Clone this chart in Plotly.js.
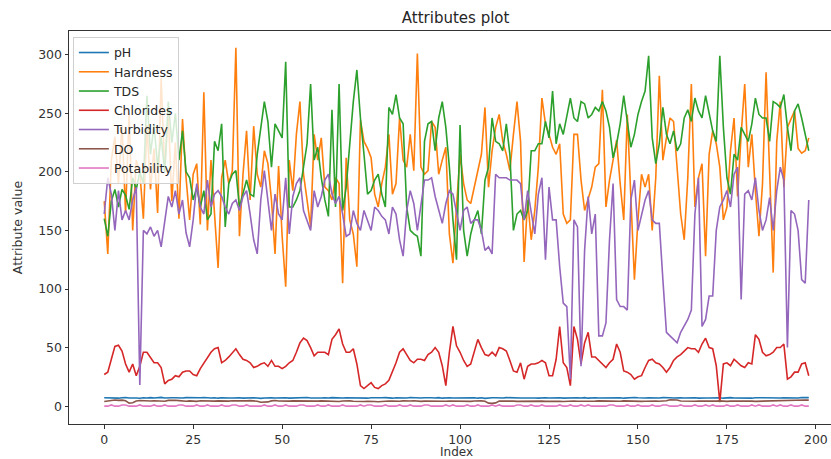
<!DOCTYPE html>
<html>
<head>
<meta charset="utf-8">
<script src="https://cdn.plot.ly/plotly-3.0.1.min.js"></script>
<style>
html,body{margin:0;padding:0;overflow:hidden;background:#fff;width:831px;height:459px;}
#chart{width:846px;height:459px;}
</style>
</head>
<body>
<div id="chart"></div>
<script>
const seriesNames = ["pH","Hardness","TDS","Chlorides","Turbidity","DO","Potability"];
const seriesColors = ["#1f77b4","#ff7f0e","#2ca02c","#d62728","#9467bd","#8c564b","#e377c2"];
const xTicks = [0,25,50,75,100,125,150,175,200];
const yTicks = [0,50,100,150,200,250,300];
const xLabel = "Index";
const yLabel = "Attribute value";
const chartTitle = "Attributes plot";

const pH = [
7.1,6.9,7.3,7.0,6.8,7.2,7.4,6.9,7.1,7.0,
6.7,7.2,7.0,7.3,6.9,7.1,7.5,7.0,6.8,7.2,
7.1,6.9,7.0,7.3,7.2,6.8,7.0,7.1,7.4,6.9,
7.0,7.2,6.8,7.1,7.3,7.0,6.9,7.2,7.1,6.8,
7.0,7.3,7.1,6.9,6.6,7.0,7.2,7.1,6.9,7.0,
7.3,7.1,6.8,7.0,7.2,6.9,7.1,7.4,7.0,6.8,
7.1,7.0,7.2,6.9,7.3,7.1,6.8,7.0,7.2,7.1,
6.9,7.0,7.3,7.1,6.8,7.2,7.0,6.9,7.1,7.3,
7.0,6.8,7.2,7.1,6.9,7.0,7.4,7.1,6.8,7.0,
7.2,6.9,7.1,7.0,7.3,6.8,7.1,7.2,6.9,7.0,
7.1,7.3,6.9,7.0,7.2,6.8,7.1,6.6,7.0,7.2,
7.1,6.9,7.0,7.3,7.1,6.8,7.2,7.0,6.9,7.1,
7.4,7.0,6.8,7.2,7.1,6.9,7.0,7.3,7.1,6.8,
7.0,7.2,6.9,7.1,7.0,7.3,6.8,7.1,7.2,6.9,
7.0,7.1,7.3,6.9,7.0,7.2,6.8,7.1,7.0,7.4,
7.1,6.9,7.0,7.2,7.1,6.8,7.0,7.3,6.9,7.1,
7.0,7.2,7.1,6.9,7.0,7.3,7.1,6.8,7.2,7.0,
6.9,7.1,7.0,7.2,6.8,7.1,7.3,7.0,6.9,7.2,
7.1,7.0,6.8,7.2,7.1,6.9,7.0,7.3,7.1,6.9,
7.0,7.2,7.1,6.8,7.3,7.0,7.4,7.2,7.3];

const hardness = [
175,130,210,230,190,240,165,250,150,210,
200,160,240,185,220,165,280,200,250,175,
225,160,245,195,159,198,207,155,268,150,
210,159,118,195,210,190,201,306,145,198,
235,176,239,198,187,218,207,176,130,205,
145,102,210,184,232,260,198,176,153,232,
210,229,187,184,176,195,190,105,212,159,
147,119,244,226,220,212,181,170,190,204,
232,181,190,246,210,204,232,201,301,204,
198,201,243,238,198,210,221,147,122,170,
215,190,176,173,187,198,215,255,187,218,
238,249,226,215,201,232,260,226,123,176,
142,167,204,263,241,232,221,215,224,164,
156,159,232,232,193,167,176,187,204,207,
270,170,193,210,227,190,159,249,176,108,
159,198,187,198,150,195,282,210,229,246,
243,204,164,142,195,275,170,195,207,128,
215,235,224,204,159,170,218,246,179,232,
275,204,232,184,145,190,285,200,114,226,
260,187,238,245,252,220,216,218,229];

const tds = [
160,145,175,185,170,185,180,168,195,185,
200,190,265,215,240,205,230,200,260,225,
250,210,235,200,195,176,187,170,184,159,
164,226,218,241,153,190,198,201,170,181,
193,181,179,215,238,260,243,204,241,235,
229,294,170,170,176,184,204,224,275,210,
221,195,176,162,253,170,275,167,187,224,
260,287,246,215,181,184,193,198,181,170,
255,249,266,246,241,170,150,147,145,128,
226,241,243,218,246,260,238,204,159,125,
240,150,128,147,159,167,147,193,204,246,
226,224,218,241,215,150,164,167,159,167,
218,218,224,224,243,229,269,224,241,232,
249,263,246,243,260,258,246,249,255,252,
260,252,238,212,224,241,265,241,221,232,
249,260,269,299,229,207,224,255,232,224,
235,218,224,246,253,243,263,252,246,265,
249,235,226,299,238,195,181,215,210,238,
232,226,241,263,249,246,246,226,260,258,
255,266,238,218,252,258,246,232,218];

const chlorides = [
27,29,40,51,52,47,36,29,36,26,
34,46,46,42,37,37,33,19,22,23,
26,25,29,30,30,27,26,32,37,42,
46,49,50,37,39,42,46,49,44,40,
39,37,33,34,36,37,34,39,34,34,
32,34,37,39,46,54,58,56,50,43,
46,46,46,44,57,61,66,53,46,46,
49,36,17.5,15,17.5,20,16,15,17.5,19,
22,29,37,46,49,44,39,37,40,40,
39,44,46,50,46,34.5,17.5,46,68,51.5,
46,39,34,36,46,57,50,44,43,46,
43,50,49,47,39,30,29,37,23,34,
36,36,37,39,37,26,26,40,68,37,
33,17.5,68,57,36,54,63,42,42,39,
36,33,37,40,53,46,30,29,27,23,
25,26,33,39,40,37,36,33,29,33,
39,42,44,47,50,49,49,46,53,58,
50,49,34.5,3.4,36,37,34.5,40,37,34.5,
33,37,36,61,57,46,43,44,46,50,
50,53,23,25,29,29,36,37,26];

const turbidity = [
164,195,181,150,184,159,167,159,176,187,
18,150,147,153,145,150,136,159,179,170,
184,164,176,148,136,159,190,170,164,193,
170,181,184,179,170,164,173,176,167,179,
184,164,142,130,176,201,176,150,181,164,
159,195,147,179,190,195,167,159,150,184,
170,179,193,198,181,173,179,164,145,147,
167,156,150,167,158,150,170,167,162,159,
147,170,164,142,128,167,184,173,150,170,
193,193,195,179,167,156,173,184,181,164,
150,167,170,156,159,159,150,133,136,130,
198,195,195,195,193,193,193,190,159,184,
167,147,181,195,125,187,159,159,119,88,
85,23,159,153,34,133,179,147,164,60,
60,71,142,190,91,85,85,82,176,193,
150,164,176,184,159,156,156,108,63,60,
57,54,63,68,74,82,164,195,68,74,
94,94,150,170,176,184,170,198,204,91,
181,184,176,195,167,150,159,178,150,184,
204,193,50,167,164,150,108,105,176];

const dissolvedO2 = [
4.0,4.3,5.0,5.2,4.9,5.1,4.6,2.6,2.9,4.4,
4.8,4.5,4.2,4.4,4.6,4.3,4.0,4.2,4.9,5.1,
5.0,4.7,4.4,4.2,4.5,4.3,4.1,4.6,4.4,4.2,
4.0,4.3,4.5,4.4,4.1,4.3,4.6,4.5,4.2,4.4,
4.5,4.7,4.6,4.2,3.3,3.4,3.6,4.5,4.8,4.4,
4.2,4.0,4.3,4.5,4.4,4.2,4.1,4.3,4.4,4.2,
4.3,4.5,4.4,4.1,4.3,4.2,4.0,4.4,4.6,4.5,
4.2,4.0,3.8,3.9,4.1,4.3,4.0,3.8,4.1,4.2,
4.4,4.3,4.1,4.2,4.5,4.3,4.4,4.6,4.2,4.1,
4.3,4.2,4.4,4.5,4.3,4.1,4.2,4.4,4.3,4.5,
4.4,4.2,4.3,4.1,4.4,4.6,4.5,4.2,2.6,2.4,
2.8,4.3,4.4,4.2,4.5,4.3,4.1,4.2,4.4,4.3,
4.2,4.4,4.5,4.3,4.1,4.2,4.4,4.3,4.2,4.0,
4.3,4.5,4.4,4.2,4.1,4.3,4.4,4.2,4.3,4.5,
4.4,4.2,4.1,4.3,4.4,4.2,4.5,4.3,4.2,4.4,
4.3,4.1,4.2,4.4,4.5,4.3,4.2,4.4,4.6,5.5,
5.6,5.3,4.4,4.2,4.3,4.1,4.2,4.4,4.3,4.1,
4.2,4.4,4.3,4.5,4.2,4.1,4.3,4.4,4.2,4.3,
4.4,4.2,4.3,4.1,4.2,4.4,4.3,4.5,4.2,4.3,
4.9,5.1,5.0,5.2,5.0,5.1,5.0,5.2,5.1];

const potability = [
0,0,1,0,0,1,1,0,0,0,
1,0,0,0,1,0,0,1,0,0,
0,1,1,0,0,0,1,0,0,1,
0,0,0,1,0,0,1,1,0,0,
1,0,0,0,0,1,0,0,1,0,
0,1,0,0,0,1,1,0,0,0,
1,0,0,1,0,0,0,1,0,0,
0,0,1,0,1,1,0,0,0,1,
0,0,0,1,0,0,1,0,0,0,
1,1,0,0,0,0,1,0,1,0,
0,0,1,0,0,1,0,0,0,1,
0,1,0,0,0,0,1,1,0,0,
1,0,0,1,0,0,0,0,1,0,
0,1,0,0,1,0,1,0,0,0,
0,0,1,1,0,0,0,1,0,0,
1,0,0,0,1,0,0,1,1,0,
0,0,1,0,0,0,1,0,0,1,
0,1,0,0,0,1,0,0,1,0,
0,0,1,0,1,0,0,0,1,0,
1,0,0,1,0,0,1,0,0];

const seriesValues = [pH, hardness, tds, chlorides, turbidity, dissolvedO2, potability];

const traces = seriesValues.map((vals, k) => ({
  type: 'scatter',
  mode: 'lines',
  name: seriesNames[k],
  x: vals.map((_, i) => i),
  y: vals,
  line: {color: seriesColors[k], width: 1.6},
  hoverinfo: 'skip'
}));

const font = {family: 'DejaVu Sans, sans-serif', color: '#262626', size: 12};

const layout = {
  width: 846,
  height: 459,
  margin: {l: 69, r: 2, t: 31, b: 35},
  paper_bgcolor: '#ffffff',
  plot_bgcolor: '#ffffff',
  font: font,
  showlegend: true,
  title: {
    text: chartTitle,
    font: {family: 'DejaVu Sans, sans-serif', size: 15, color: '#262626'},
    x: 0.5386, xref: 'container', xanchor: 'center',
    y: 0.962, yref: 'container', yanchor: 'middle'
  },
  xaxis: {
    range: [-9.9, 207.9],
    tickvals: xTicks,
    ticktext: xTicks.map(String),
    ticks: 'outside', ticklen: 3.5, tickwidth: 1, tickcolor: '#333',
    showline: true, linecolor: '#333', linewidth: 1, mirror: true,
    showgrid: false, zeroline: false,
    tickfont: {size: 12.5, color: '#333'}
  },
  yaxis: {
    range: [-15.25, 320.25],
    tickvals: yTicks,
    ticktext: yTicks.map(String),
    ticks: 'outside', ticklen: 3.5, tickwidth: 1, tickcolor: '#333',
    showline: true, linecolor: '#333', linewidth: 1, mirror: true,
    showgrid: false, zeroline: false,
    tickfont: {size: 12.5, color: '#333'},
    title: {text: yLabel, font: {size: 12.5, color: '#333'}, standoff: 12}
  },
  annotations: [{
    text: xLabel, xref: 'paper', x: 0.5, xanchor: 'center',
    yref: 'paper', y: -0.0712, yanchor: 'middle',
    showarrow: false, font: {size: 12, color: '#333'}
  }],
  legend: {
    x: 0.005, y: 0.985, xanchor: 'left', yanchor: 'top',
    bgcolor: 'rgba(255,255,255,0.8)',
    bordercolor: '#d0d0d0', borderwidth: 1,
    font: {size: 12.5, color: '#262626'},
    tracegroupgap: 0,
    itemwidth: 30
  }
};

Plotly.newPlot('chart', traces, layout, {staticPlot: true, displayModeBar: false});
</script>
</body>
</html>
